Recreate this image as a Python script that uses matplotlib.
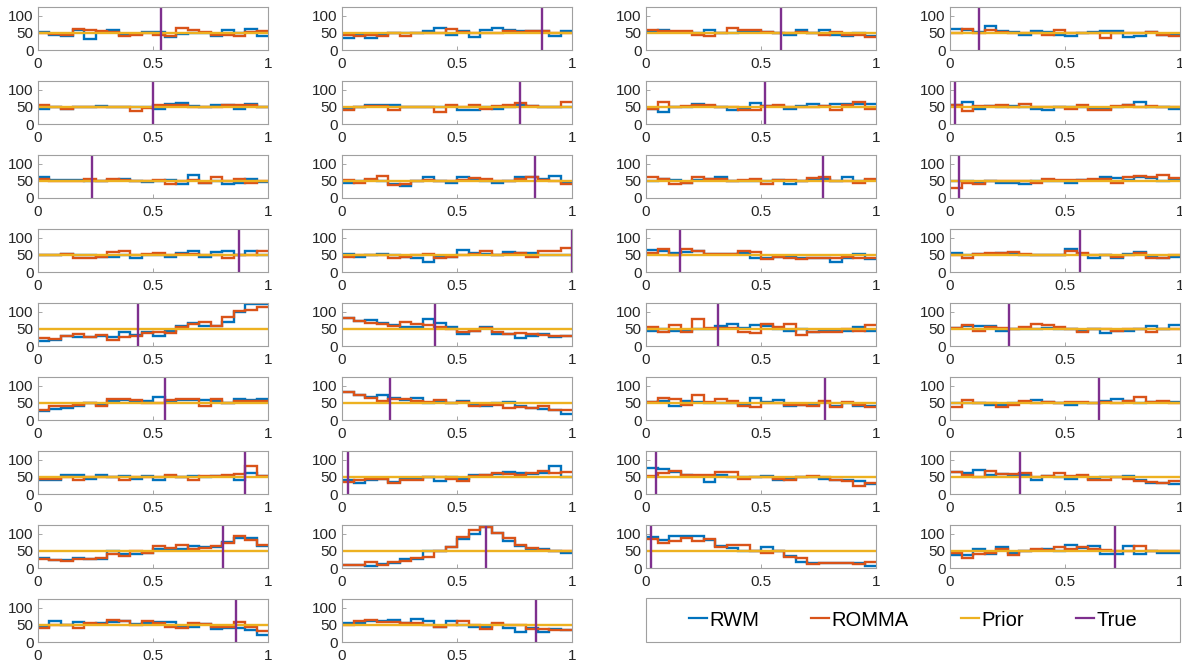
import numpy as np
import matplotlib
matplotlib.use("Agg")
import matplotlib.pyplot as plt
from matplotlib.lines import Line2D
from matplotlib.patches import Rectangle

plt.rcParams['font.family'] = ['Liberation Sans', 'DejaVu Sans']

# ---- data (20 bins on [0, 1]) ----
prior_level = 50

true_values = [0.535, 0.871, 0.587, 0.126,
               0.500, 0.776, 0.518, 0.023,
               0.236, 0.837, 0.769, 0.038,
               0.872, 0.998, 0.148, 0.566,
               0.436, 0.404, 0.313, 0.257,
               0.554, 0.209, 0.779, 0.648,
               0.902, 0.028, 0.043, 0.304,
               0.803, 0.626, 0.021, 0.717,
               0.861, 0.843]

rwm_counts = [
    [53, 45, 42, 57, 33, 53, 58, 45, 47, 53, 52, 38, 47, 50, 50, 42, 58, 50, 60, 42],
    [35, 45, 35, 45, 50, 48, 50, 55, 65, 45, 55, 38, 58, 65, 58, 55, 55, 55, 40, 55],
    [55, 58, 52, 52, 48, 58, 48, 48, 55, 55, 52, 48, 45, 57, 48, 57, 45, 42, 48, 40],
    [60, 58, 52, 70, 55, 52, 45, 55, 52, 45, 42, 50, 52, 55, 55, 38, 42, 52, 45, 45],
    [45, 48, 45, 50, 48, 53, 50, 48, 48, 48, 45, 57, 60, 52, 50, 55, 55, 45, 57, 50],
    [45, 50, 55, 55, 55, 50, 50, 50, 48, 52, 42, 42, 48, 45, 50, 55, 52, 50, 50, 50],
    [45, 35, 50, 50, 58, 52, 50, 40, 45, 62, 52, 52, 45, 52, 58, 52, 58, 58, 58, 57],
    [55, 65, 45, 52, 48, 52, 48, 45, 40, 48, 48, 48, 45, 45, 50, 55, 65, 50, 50, 45],
    [62, 52, 52, 52, 50, 48, 52, 55, 50, 46, 48, 52, 42, 67, 45, 50, 42, 45, 55, 47],
    [45, 48, 52, 48, 42, 35, 48, 60, 50, 45, 60, 52, 48, 45, 50, 62, 60, 55, 65, 45],
    [48, 55, 52, 45, 52, 55, 60, 48, 50, 50, 48, 52, 40, 48, 52, 55, 48, 60, 50, 52],
    [48, 48, 45, 48, 45, 45, 42, 48, 48, 50, 45, 52, 52, 60, 58, 52, 62, 58, 48, 55],
    [50, 48, 52, 48, 48, 45, 45, 50, 40, 48, 48, 45, 55, 62, 45, 58, 60, 48, 60, 48],
    [52, 45, 48, 52, 48, 45, 42, 28, 45, 45, 65, 55, 52, 48, 57, 55, 55, 50, 50, 50],
    [65, 62, 55, 58, 60, 52, 52, 52, 55, 40, 42, 45, 45, 42, 40, 40, 30, 42, 52, 38],
    [55, 48, 52, 52, 55, 55, 48, 48, 48, 48, 68, 52, 42, 50, 42, 52, 58, 45, 40, 45],
    [15, 17, 28, 25, 25, 28, 25, 40, 32, 42, 30, 45, 58, 68, 58, 57, 70, 98, 122, 122],
    [80, 72, 75, 68, 60, 55, 55, 78, 68, 55, 35, 45, 55, 35, 35, 22, 28, 35, 25, 30],
    [45, 48, 45, 45, 48, 48, 58, 65, 52, 62, 58, 50, 45, 48, 42, 45, 45, 45, 55, 45],
    [52, 58, 58, 58, 45, 48, 50, 48, 52, 48, 48, 45, 48, 38, 45, 45, 50, 58, 50, 60],
    [25, 32, 35, 40, 48, 45, 55, 58, 55, 55, 68, 55, 58, 58, 58, 55, 50, 60, 58, 62],
    [80, 72, 68, 72, 65, 58, 65, 48, 55, 50, 55, 45, 42, 48, 52, 40, 35, 32, 28, 18],
    [52, 55, 42, 55, 52, 50, 50, 50, 45, 65, 52, 58, 42, 45, 45, 52, 42, 50, 42, 40],
    [50, 48, 48, 45, 45, 50, 52, 58, 52, 50, 45, 48, 50, 55, 60, 55, 50, 52, 52, 52],
    [42, 40, 55, 55, 45, 55, 50, 52, 45, 52, 42, 52, 50, 52, 48, 52, 52, 42, 62, 52],
    [40, 32, 42, 45, 35, 45, 45, 48, 38, 48, 45, 55, 55, 58, 65, 62, 58, 60, 82, 50],
    [75, 72, 65, 55, 52, 35, 55, 50, 48, 50, 52, 40, 45, 48, 50, 45, 42, 40, 38, 28],
    [65, 62, 70, 55, 58, 55, 55, 42, 52, 48, 45, 52, 45, 48, 50, 52, 42, 32, 32, 30],
    [28, 22, 22, 28, 25, 25, 50, 40, 40, 45, 55, 55, 55, 65, 62, 62, 75, 88, 88, 65],
    [8, 8, 5, 12, 15, 25, 25, 50, 48, 60, 85, 100, 120, 102, 78, 65, 55, 55, 50, 45],
    [90, 82, 92, 92, 92, 82, 65, 58, 48, 48, 62, 48, 35, 18, 15, 15, 15, 15, 15, 5],
    [38, 38, 55, 42, 60, 45, 48, 52, 55, 50, 68, 58, 65, 42, 42, 65, 40, 48, 45, 45],
    [45, 62, 50, 58, 52, 55, 58, 60, 52, 55, 58, 58, 45, 45, 52, 38, 40, 42, 35, 20],
    [55, 55, 62, 60, 65, 55, 68, 62, 45, 60, 48, 45, 45, 52, 42, 30, 42, 28, 38, 35],
]

romma_counts = [
    [50, 47, 45, 60, 57, 55, 52, 40, 45, 48, 45, 42, 65, 57, 52, 45, 45, 40, 52, 55],
    [45, 42, 45, 42, 50, 40, 48, 48, 50, 60, 52, 48, 50, 50, 55, 52, 55, 55, 50, 48],
    [57, 55, 55, 55, 45, 40, 50, 65, 57, 58, 52, 50, 48, 52, 48, 45, 53, 45, 45, 38],
    [48, 62, 50, 58, 52, 48, 50, 50, 45, 58, 50, 48, 48, 35, 50, 48, 50, 52, 45, 42],
    [55, 48, 45, 50, 50, 50, 48, 48, 37, 47, 55, 55, 55, 50, 48, 48, 55, 55, 55, 50],
    [40, 50, 52, 52, 40, 50, 50, 50, 35, 55, 50, 55, 45, 52, 55, 60, 52, 48, 48, 63],
    [45, 65, 50, 52, 55, 55, 48, 48, 40, 40, 52, 55, 48, 50, 48, 52, 40, 55, 65, 45],
    [55, 38, 52, 52, 55, 48, 58, 50, 48, 48, 45, 55, 42, 42, 52, 55, 50, 52, 50, 48],
    [55, 48, 50, 50, 55, 50, 56, 52, 50, 48, 52, 42, 50, 52, 45, 60, 50, 55, 45, 48],
    [52, 45, 55, 65, 38, 42, 48, 52, 50, 48, 52, 57, 55, 48, 50, 55, 62, 52, 48, 42],
    [62, 55, 42, 45, 60, 55, 55, 48, 52, 55, 40, 52, 52, 48, 58, 62, 48, 48, 45, 55],
    [28, 45, 40, 48, 48, 48, 50, 45, 55, 52, 52, 52, 55, 55, 45, 60, 65, 60, 68, 58],
    [50, 48, 52, 42, 40, 45, 58, 62, 48, 52, 55, 48, 52, 52, 48, 50, 42, 48, 48, 60],
    [45, 48, 48, 50, 40, 45, 50, 52, 40, 45, 50, 52, 60, 48, 52, 55, 45, 62, 62, 70],
    [55, 68, 50, 68, 62, 52, 52, 52, 60, 58, 38, 45, 42, 38, 40, 40, 42, 45, 40, 40],
    [50, 42, 52, 55, 55, 58, 52, 50, 48, 50, 60, 55, 48, 50, 45, 48, 55, 42, 40, 48],
    [22, 20, 28, 35, 25, 32, 18, 25, 28, 38, 42, 38, 55, 65, 70, 58, 85, 103, 106, 112],
    [80, 72, 68, 65, 58, 70, 65, 60, 55, 48, 42, 45, 52, 40, 35, 38, 35, 32, 28, 28],
    [55, 42, 62, 42, 78, 52, 52, 52, 42, 38, 65, 55, 65, 32, 40, 40, 40, 48, 45, 60],
    [52, 60, 45, 55, 52, 48, 55, 65, 60, 55, 48, 42, 48, 48, 45, 48, 50, 42, 48, 50],
    [28, 40, 40, 45, 48, 42, 60, 60, 58, 50, 48, 58, 60, 60, 42, 60, 48, 55, 55, 55],
    [82, 72, 65, 55, 62, 62, 55, 52, 58, 48, 52, 40, 45, 45, 35, 38, 35, 42, 28, 30],
    [52, 65, 62, 45, 72, 52, 60, 55, 42, 38, 48, 48, 45, 45, 42, 55, 38, 52, 45, 38],
    [38, 58, 48, 48, 38, 45, 55, 48, 52, 50, 52, 52, 48, 52, 50, 55, 68, 52, 55, 48],
    [45, 45, 48, 42, 48, 50, 50, 40, 48, 48, 48, 55, 50, 42, 52, 52, 55, 58, 80, 52],
    [35, 40, 45, 45, 32, 42, 42, 48, 50, 45, 38, 52, 55, 62, 58, 55, 62, 68, 62, 65],
    [52, 62, 68, 55, 55, 55, 65, 65, 45, 48, 50, 45, 40, 48, 52, 48, 42, 38, 22, 32],
    [65, 55, 48, 68, 58, 58, 60, 50, 52, 60, 52, 55, 40, 40, 48, 45, 38, 35, 32, 38],
    [25, 22, 20, 25, 25, 30, 40, 35, 48, 45, 65, 58, 68, 55, 58, 65, 72, 92, 80, 68],
    [8, 8, 18, 8, 18, 20, 28, 32, 50, 60, 90, 110, 118, 102, 88, 68, 58, 52, 50, 48],
    [85, 72, 78, 88, 78, 85, 62, 68, 68, 48, 45, 48, 32, 28, 12, 15, 15, 15, 12, 18],
    [45, 28, 40, 45, 55, 38, 48, 55, 52, 60, 55, 62, 55, 52, 50, 48, 65, 48, 48, 48],
    [42, 50, 50, 42, 55, 52, 65, 60, 50, 62, 55, 45, 42, 55, 52, 45, 45, 58, 45, 33],
    [50, 62, 65, 58, 58, 55, 55, 50, 45, 48, 62, 48, 38, 55, 48, 48, 38, 38, 35, 35],
]

legend_labels = ["RWM", "ROMMA", "Prior", "True"]
c_rwm = "#0072BD"
c_romma = "#D95319"
c_prior = "#EDB120"
c_true = "#7E2F8E"

W, H = 1182, 668
fig = plt.figure(figsize=(W / 100, H / 100), dpi=100)

col_left = [38, 342, 646, 950]
ax_w, ax_h = 230, 43
row_top0, row_step = 7, 74

edges = np.linspace(0, 1, 21)

for i in range(34):
    r, c = divmod(i, 4)
    left = col_left[c]
    top = row_top0 + r * row_step
    ax = fig.add_axes([left / W, 1 - (top + ax_h) / H, ax_w / W, ax_h / H])
    ax.stairs(rwm_counts[i], edges, color=c_rwm, lw=1.7, baseline=None)
    ax.stairs(romma_counts[i], edges, color=c_romma, lw=1.7, baseline=None)
    ax.axhline(prior_level, color=c_prior, lw=1.7)
    ax.axvline(true_values[i], color=c_true, lw=1.7)
    ax.set_xlim(0, 1)
    ax.set_ylim(0, 125)
    ax.set_xticks([0, 0.5, 1])
    ax.set_xticklabels(["0", "0.5", "1"])
    ax.set_yticks([0, 50, 100])
    ax.tick_params(direction="in", length=3, width=0.6, color="#999999",
                   labelsize=11, labelcolor="#262626", pad=3)
    ax.tick_params(axis="x", pad=5)
    for sp in ax.spines.values():
        sp.set_color("#a0a0a0")
        sp.set_linewidth(0.8)

# legend box in the empty slot of the last row
leg_left, leg_right, leg_top, leg_bot = 646, 1180, 598, 642
box = Rectangle((leg_left / W, 1 - leg_bot / H), (leg_right - leg_left) / W,
                (leg_bot - leg_top) / H, transform=fig.transFigure,
                facecolor="white", edgecolor="#a0a0a0", lw=0.8)
fig.patches.append(box)

handles = [Line2D([], [], color=c_rwm, lw=1.6),
           Line2D([], [], color=c_romma, lw=1.6),
           Line2D([], [], color=c_prior, lw=1.6),
           Line2D([], [], color=c_true, lw=1.6)]
fig.legend(handles, legend_labels, ncol=4, loc="center",
           bbox_to_anchor=((leg_left + leg_right) / 2 / W, 1 - (leg_top + leg_bot) / 2 / H),
           fontsize=14.5, handlelength=0.9, handletextpad=0.1, columnspacing=2.6,
           frameon=False, borderaxespad=0, borderpad=0)

fig.savefig("out.png", dpi=100)
